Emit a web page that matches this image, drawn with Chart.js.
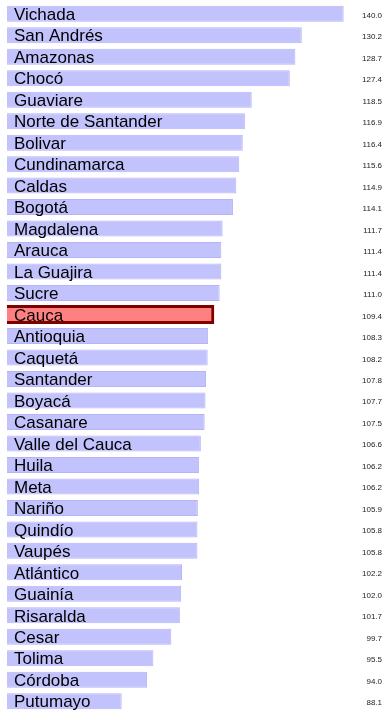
<!DOCTYPE html>
<html>
<head>
<meta charset="utf-8">
<script src="https://cdn.jsdelivr.net/npm/chart.js@4"></script>
<style>
  body { margin: 0; background: #fff; }
  #wrap { width: 385px; height: 712px; }
</style>
</head>
<body>
<div id="wrap"><canvas id="chart" width="385" height="712"></canvas></div>
<script>
// departamentos, de mayor a menor
const departamentos = [
    'Vichada', 'San Andrés', 'Amazonas', 'Chocó', 'Guaviare', 'Norte de Santander',
    'Bolivar', 'Cundinamarca', 'Caldas', 'Bogotá', 'Magdalena', 'Arauca',
    'La Guajira', 'Sucre', 'Cauca', 'Antioquia', 'Caquetá', 'Santander',
    'Boyacá', 'Casanare', 'Valle del Cauca', 'Huila', 'Meta', 'Nariño',
    'Quindío', 'Vaupés', 'Atlántico', 'Guainía', 'Risaralda', 'Cesar',
    'Tolima', 'Córdoba', 'Putumayo'
];
const valores = [
    140.0, 130.2, 128.7, 127.4, 118.5, 116.9,
    116.4, 115.6, 114.9, 114.1, 111.7, 111.4,
    111.4, 111.0, 109.4, 108.3, 108.2, 107.8,
    107.7, 107.5, 106.6, 106.2, 106.2, 105.9,
    105.8, 105.8, 102.2, 102.0, 101.7, 99.7,
    95.5, 94.0, 88.1
];
const destacado = 'Cauca';

// nombres dentro de la barra y valor a la derecha
const etiquetas = {
    id: 'etiquetas',
    afterDatasetsDraw(chart) {
        const ctx = chart.ctx;
        const y = chart.scales.y;
        const area = chart.chartArea;
        ctx.save();
        departamentos.forEach((nombre, i) => {
            const py = y.getPixelForValue(i);
            ctx.fillStyle = '#000';
            ctx.font = '17px "Liberation Sans", Arial, sans-serif';
            ctx.textAlign = 'left';
            ctx.textBaseline = 'alphabetic';
            ctx.fillText(nombre, area.left + 7, py + 6.2);
            ctx.fillStyle = '#222';
            ctx.font = '8px "Liberation Sans", Arial, sans-serif';
            ctx.textAlign = 'right';
            ctx.fillText(valores[i].toFixed(1), 382, py + 4);
        });
        ctx.restore();
    }
};

new Chart(document.getElementById('chart'), {
    type: 'bar',
    data: {
        labels: departamentos,
        datasets: [{
            data: valores,
            backgroundColor: departamentos.map(d => d === destacado ? '#ff8080' : '#c2c2fd'),
            borderColor: departamentos.map(d => d === destacado ? '#800000' : '#b4b4f6'),
            borderWidth: departamentos.map(d => d === destacado ? 3 : 1),
            inflateAmount: departamentos.map(d => d === destacado ? 1.5 : 0),
            borderSkipped: false,
            barPercentage: 0.745,
            categoryPercentage: 1
        }]
    },
    options: {
        indexAxis: 'y',
        responsive: false,
        animation: false,
        layout: { padding: { left: 7, right: 0, top: 3, bottom: 0 } },
        scales: {
            x: { display: false, min: 61.28, max: 149.66 },
            y: { display: false }
        },
        plugins: {
            legend: { display: false },
            tooltip: { enabled: false }
        }
    },
    plugins: [etiquetas]
});
</script>
</body>
</html>
